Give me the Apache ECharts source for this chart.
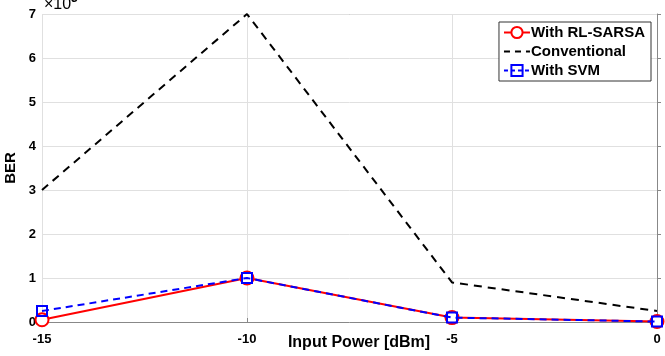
<!DOCTYPE html>
<html><head><meta charset="utf-8">
<script src="https://cdn.jsdelivr.net/npm/echarts@6/dist/echarts.min.js"></script>
<style>html,body{margin:0;padding:0;background:#fff}#c{width:665px;height:356px}</style>
</head><body><div id="c"></div>
<script>
const xValues = [-15, -10, -5, 0];
const rlSarsa = [0.05, 1.0, 0.1, 0.01];
const conventional = [3.0, 7.0, 0.9, 0.25];
const withSvm = [0.25, 1.0, 0.1, 0.01];
const seriesNames = ['With RL-SARSA', 'Conventional', 'With SVM'];
const xAxisName = 'Input Power [dBm]';
const pair = a => xValues.map((x, i) => [x, a[i]]);
const F = 'Liberation Sans, Arial, sans-serif';
const chart = echarts.init(document.getElementById('c'));
chart.setOption({
  animation: false,
  grid: {left: 42, right: 8, top: 14, bottom: 34, containLabel: false, outerBoundsMode: 'none'},
  xAxis: {
    type: 'value', min: -15, max: 0, interval: 5,
    axisLine: {show: true, lineStyle: {color: '#888'}},
    axisTick: {show: true, inside: true, length: 4, lineStyle: {color: '#888'}},
    axisLabel: {fontFamily: F, fontWeight: 'bold', fontSize: 13, color: '#000', margin: 11},
    splitLine: {show: true, lineStyle: {color: '#e0e0e0'}}
  },
  yAxis: {
    type: 'value', min: 0, max: 7, interval: 1,
    name: 'BER', nameLocation: 'middle', nameGap: 21,
    nameTextStyle: {fontFamily: F, fontWeight: 'bold', fontSize: 15, color: '#000'},
    axisLine: {show: true, lineStyle: {color: '#888'}},
    axisTick: {show: true, inside: true, length: 4, lineStyle: {color: '#888'}},
    axisLabel: {fontFamily: F, fontWeight: 'bold', fontSize: 13, color: '#000', margin: 6},
    splitLine: {show: true, lineStyle: {color: '#e0e0e0'}}
  },
  legend: {
    data: [
      {name: seriesNames[0]},
      {name: seriesNames[1], itemStyle: {opacity: 0}, lineStyle: {type: [6, 5], width: 2}},
      {name: seriesNames[2], lineStyle: {type: [4, 3], width: 2}}
    ],
    orient: 'vertical', right: 14, top: 22,
    backgroundColor: '#fff', borderColor: '#333', borderWidth: 1,
    padding: [3, 6, 3, 4], itemGap: 4, itemWidth: 26, itemHeight: 14,
    textStyle: {fontFamily: F, fontWeight: 'bold', fontSize: 15, color: '#000', padding:[0,0,0,-4]}
  },
  graphic: [
    {type: 'line', shape: {x1: 42, y1: 14.5, x2: 657, y2: 14.5}, style: {stroke: '#888', lineWidth: 1}},
    {type: 'line', shape: {x1: 657.5, y1: 14, x2: 657.5, y2: 322}, style: {stroke: '#888', lineWidth: 1}},
    {type: 'text', x: 359, y: 343, style: {text: xAxisName, fontFamily: F, fontWeight: 'bold', fontSize: 16, fill: '#000', align: 'center', verticalAlign: 'middle'}},
    {type: 'text', left: 44, top: -3, style: {text: '×10', fontFamily: F, fontSize: 16, fill: '#000'}},
    {type: 'text', left: 67, top: -7, style: {text: '-3', fontFamily: F, fontSize: 12, fontWeight: 'bold', fill: '#000'}}
  ],
  series: [
    {name: seriesNames[0], type: 'line', data: pair(rlSarsa), symbol: 'circle', symbolSize: 13,
     lineStyle: {color: '#ff0000', width: 2}, itemStyle: {color: '#fff', borderColor: '#ff0000', borderWidth: 2}, color: '#ff0000', z: 2},
    {name: seriesNames[1], type: 'line', data: pair(conventional), symbol: 'none',
     lineStyle: {color: '#000', width: 2, type: [8, 6]}, itemStyle: {color: '#000'}, color: '#000', z: 3},
    {name: seriesNames[2], type: 'line', data: pair(withSvm), symbol: 'rect', symbolSize: 10,
     lineStyle: {color: '#0000ff', width: 2, type: [7, 5]}, itemStyle: {color: 'rgba(0,0,0,0)', borderColor: '#0000ff', borderWidth: 2}, color: '#0000ff', z: 4}
  ]
});
</script></body></html>
